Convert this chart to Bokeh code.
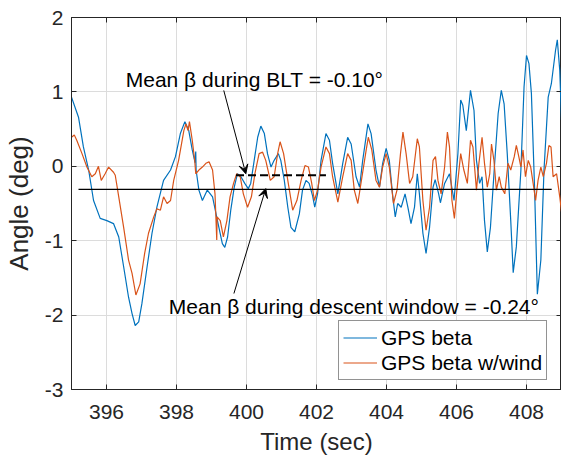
from bokeh.plotting import figure
from bokeh.models import (Range1d, FixedTicker, LinearAxis, Label, Arrow, VeeHead,
                          Legend, LegendItem, ColumnDataSource)
from bokeh.embed import file_html
from bokeh.resources import INLINE

# ---------------- data ----------------
time_blue = [395.00, 395.20, 395.34, 395.49, 395.63, 395.82, 396.01, 396.20, 396.35, 396.49,
             396.63, 396.73, 396.82, 396.92, 397.01, 397.16, 397.30, 397.44, 397.63, 397.83,
             397.97, 398.11, 398.24, 398.35, 398.45, 398.53, 398.55, 398.56, 398.64, 398.74,
             398.88, 399.03, 399.17, 399.31, 399.38, 399.46, 399.55, 399.65, 399.74, 399.84,
             399.95, 400.05, 400.12, 400.22, 400.32, 400.41, 400.51, 400.60, 400.70, 400.79,
             400.91, 400.98, 401.08, 401.18, 401.27, 401.38, 401.51, 401.60, 401.70, 401.79,
             401.89, 401.95, 402.03, 402.13, 402.27, 402.37, 402.46, 402.61, 402.75, 402.89,
             402.99, 403.13, 403.23, 403.32, 403.47, 403.56, 403.70, 403.80, 403.89, 403.99,
             404.08, 404.18, 404.25, 404.32, 404.42, 404.53, 404.61, 404.70, 404.80, 404.88,
             404.94, 405.04, 405.13, 405.23, 405.33, 405.39, 405.49, 405.54, 405.66, 405.80,
             405.93, 406.04, 406.12, 406.18, 406.28, 406.40, 406.50, 406.57, 406.66, 406.73,
             406.80, 406.88, 406.97, 407.09, 407.19, 407.28, 407.36, 407.45, 407.55, 407.62,
             407.71, 407.84, 407.93, 408.00, 408.07, 408.14, 408.23, 408.31, 408.41, 408.50,
             408.62, 408.71, 408.83, 408.88, 408.95, 409.00]
beta_blue = [0.93, 0.66, 0.26, -0.05, -0.46, -0.70, -0.73, -0.77, -0.95, -1.35,
             -1.76, -1.98, -2.14, -2.09, -1.85, -1.35, -0.90, -0.55, -0.19, -0.05,
             0.13, 0.44, 0.60, 0.48, 0.22, 0.05, 0.20, -0.05, -0.32, -0.46,
             -0.32, -0.41, -0.73, -1.04, -1.09, -0.95, -0.59, -0.28, -0.10, -0.14,
             -0.23, -0.30, -0.23, 0.08, 0.39, 0.54, 0.44, 0.17, -0.01, 0.08,
             0.17, 0.08, -0.19, -0.55, -0.82, -0.88, -0.64, -0.32, -0.19, -0.23,
             -0.40, -0.55, -0.37, 0.08, 0.44, 0.35, 0.04, -0.37, 0.04, 0.39,
             0.30, -0.14, -0.28, 0.08, 0.57, 0.44, -0.05, -0.28, 0.04, 0.24,
             0.08, -0.41, -0.68, -0.50, -0.55, -0.37, -0.55, -0.77, -0.55, -0.10,
             -0.37, -0.90, -1.17, -0.82, -0.28, -0.18, -0.37, -0.49, -0.23, -0.10,
             -0.46, 0.17, 0.89, 0.82, 0.48, 1.02, 0.75, 0.08, -0.23, -0.14,
             -0.73, -1.15, -0.82, 0.04, 0.71, 1.02, 0.84, 0.17, -0.73, -1.43,
             -1.08, -0.05, 1.07, 1.49, 1.38, 0.98, -0.28, -1.72, -1.26, -0.05,
             0.93, 1.11, 1.56, 1.70, 1.29, 0.62]

time_orange = [395.00, 395.08, 395.15, 395.30, 395.44, 395.58, 395.68, 395.77, 395.85, 395.96,
               396.06, 396.20, 396.25, 396.35, 396.49, 396.63, 396.73, 396.84, 396.96, 397.09,
               397.20, 397.35, 397.44, 397.54, 397.63, 397.73, 397.83, 397.92, 398.06, 398.21,
               398.27, 398.33, 398.37, 398.45, 398.52, 398.55, 398.64, 398.74, 398.84, 398.93,
               399.03, 399.10, 399.15, 399.16, 399.25, 399.34, 399.44, 399.53, 399.63, 399.72,
               399.82, 399.91, 400.03, 400.14, 400.24, 400.36, 400.46, 400.55, 400.68, 400.79,
               400.89, 400.96, 401.06, 401.18, 401.32, 401.44, 401.56, 401.67, 401.77, 401.86,
               401.94, 402.03, 402.13, 402.27, 402.37, 402.46, 402.61, 402.75, 402.89, 402.99,
               403.08, 403.18, 403.27, 403.42, 403.48, 403.58, 403.70, 403.80, 403.89, 403.99,
               404.08, 404.20, 404.30, 404.40, 404.47, 404.56, 404.66, 404.75, 404.88, 404.94,
               405.04, 405.13, 405.23, 405.33, 405.40, 405.47, 405.56, 405.66, 405.74, 405.80,
               405.87, 405.94, 406.02, 406.12, 406.21, 406.31, 406.40, 406.47, 406.57, 406.64,
               406.73, 406.80, 406.88, 406.95, 407.00, 407.07, 407.14, 407.22, 407.28, 407.38,
               407.47, 407.55, 407.65, 407.71, 407.78, 407.84, 407.90, 407.97, 408.05, 408.12,
               408.19, 408.26, 408.33, 408.41, 408.48, 408.57, 408.64, 408.70, 408.76, 408.86,
               408.95, 409.00]
beta_orange = [0.39, 0.42, 0.35, 0.17, -0.01, -0.14, -0.10, 0.00, -0.19, -0.10,
               -0.01, -0.08, -0.12, -0.41, -0.82, -1.26, -1.44, -1.73, -1.58, -1.17,
               -0.90, -0.68, -0.57, -0.59, -0.41, -0.50, -0.46, -0.19, 0.08, 0.48,
               0.57, 0.48, 0.60, 0.35, 0.08, -0.10, -0.05, -0.01, 0.04, 0.06,
               -0.05, -0.37, -0.99, -0.68, -0.73, -0.95, -0.73, -0.41, -0.23, -0.10,
               -0.14, -0.37, -0.55, -0.41, -0.10, 0.17, 0.19, 0.08, -0.19, -0.14,
               0.17, 0.33, 0.17, -0.19, -0.59, -0.46, -0.19, 0.01, -0.01, -0.22,
               -0.46, -0.32, -0.01, 0.26, 0.17, -0.14, -0.48, -0.14, 0.17, 0.08,
               -0.32, -0.50, -0.23, 0.22, 0.39, 0.22, -0.19, -0.28, -0.01, 0.17,
               -0.01, -0.50, -0.32, 0.17, 0.46, 0.17, -0.23, -0.14, 0.37, 0.26,
               -0.46, -0.86, -0.55, 0.08, 0.13, -0.19, -0.37, -0.01, 0.46, 0.26,
               -0.46, -0.70, -0.28, 0.17, -0.05, -0.23, 0.35, 0.26, -0.32, 0.04,
               0.39, 0.04, -0.28, -0.10, 0.30, 0.08, -0.32, -0.14, -0.28, -0.37,
               0.04, -0.05, 0.13, 0.28, 0.13, -0.01, 0.22, -0.14, 0.08, -0.01,
               -0.23, -0.46, -0.19, -0.01, -0.14, 0.04, 0.28, 0.26, -0.14, -0.10,
               -0.41, -0.61]

descent_mean_t = [395.2, 408.72]
descent_mean_v = [-0.31, -0.31]
blt_mean_t = [399.7, 402.27]
blt_mean_v = [-0.12, -0.12]

x_ticks = [396, 398, 400, 402, 404, 406, 408]
y_ticks = [-3, -2, -1, 0, 1, 2]
y_tick_labels = ["-3", "-2", "-1", "0", "1", "2"]

label_blt = "Mean \u03b2 during BLT = -0.10\u00b0"
label_descent = "Mean \u03b2 during descent window = -0.24\u00b0"
series_names = ["GPS beta", "GPS beta w/wind"]

# annotation anchor points (data coords)
blt_text_pos = (396.55, 1.17)
blt_arrow = (399.35, 1.02, 399.98, -0.10)
desc_text_pos = (397.78, -1.88)
desc_arrow = (399.64, -1.71, 400.55, -0.30)

# ---------------- figure ----------------
FONT = "Liberation Sans"
TXT = "#262626"
BLUE = "#0072BD"
ORANGE = "#D95319"

p = figure(width=561, height=459, output_backend="svg", toolbar_location=None,
           x_range=Range1d(395, 409), y_range=Range1d(-3, 2))
p.min_border_left = 71
p.min_border_right = 0
p.min_border_top = 17
p.min_border_bottom = 70
p.background_fill_color = "white"
p.border_fill_color = "white"
p.outline_line_color = TXT
p.outline_line_width = 1

for ax, ticks in ((p.xaxis[0], x_ticks), (p.yaxis[0], y_ticks)):
    ax.ticker = FixedTicker(ticks=ticks)
    ax.major_tick_in = 5
    ax.major_tick_out = 0
    ax.minor_tick_line_color = None
    ax.axis_line_color = TXT
    ax.major_tick_line_color = TXT
    ax.major_label_text_font = FONT
    ax.major_label_text_font_size = "21px"
    ax.major_label_text_color = TXT
    ax.axis_label_text_font = FONT
    ax.axis_label_text_font_style = "normal"
    ax.axis_label_text_color = TXT

p.yaxis[0].major_label_overrides = {float(t): s for t, s in zip(y_ticks, y_tick_labels)}

p.xaxis[0].axis_label = "Time (sec)"
p.xaxis[0].axis_label_text_font_size = "24px"
p.xaxis[0].major_label_standoff = 15
p.xaxis[0].axis_label_standoff = 6
p.yaxis[0].axis_label = "Angle (deg)"
p.yaxis[0].axis_label_text_font_size = "26px"
p.yaxis[0].major_label_standoff = 8
p.yaxis[0].axis_label_standoff = 8

# box ticks on top/right (no labels)
for loc, ticks in (("right", y_ticks), ("above", x_ticks)):
    a = LinearAxis(ticker=FixedTicker(ticks=ticks))
    a.major_tick_in = 5
    a.major_tick_out = 0
    a.minor_tick_line_color = None
    a.axis_line_color = TXT
    a.major_tick_line_color = TXT
    a.major_label_overrides = {float(t): "" for t in ticks}
    a.major_label_standoff = 0
    p.add_layout(a, loc)

p.xgrid.ticker = FixedTicker(ticks=x_ticks)
p.ygrid.ticker = FixedTicker(ticks=y_ticks)
p.grid.grid_line_color = "#dcdcdc"
p.grid.grid_line_width = 1

src_b = ColumnDataSource(dict(t=time_blue, v=beta_blue))
src_o = ColumnDataSource(dict(t=time_orange, v=beta_orange))
r_b = p.line("t", "v", source=src_b, line_color=BLUE, line_width=1.2)
r_o = p.line("t", "v", source=src_o, line_color=ORANGE, line_width=1.2)

p.line(descent_mean_t, descent_mean_v, line_color="black", line_width=1.2)
p.line(blt_mean_t, blt_mean_v, line_color="black", line_width=2, line_dash="8 4")

p.add_layout(Label(x=blt_text_pos[0], y=blt_text_pos[1], text=label_blt,
                   text_font=FONT, text_font_size="21px", text_color="black",
                   text_baseline="middle", text_align="left"))
p.add_layout(Label(x=desc_text_pos[0], y=desc_text_pos[1], text=label_descent,
                   text_font=FONT, text_font_size="21px", text_color="black",
                   text_baseline="middle", text_align="left"))

for (x0, y0, x1, y1) in (blt_arrow, desc_arrow):
    p.add_layout(Arrow(x_start=x0, y_start=y0, x_end=x1, y_end=y1,
                       line_color="black", line_width=1,
                       end=VeeHead(size=9, fill_color="black", line_color="black")))

legend = Legend(items=[LegendItem(label=series_names[0], renderers=[r_b]),
                       LegendItem(label=series_names[1], renderers=[r_o])],
                location=(267, 9))
legend.label_text_font = FONT
legend.label_text_font_size = "21px"
legend.label_text_color = "black"
legend.border_line_color = TXT
legend.border_line_width = 1
legend.background_fill_color = "white"
legend.background_fill_alpha = 1
legend.glyph_width = 34
legend.glyph_height = 25
legend.label_height = 25
legend.label_standoff = 4
legend.spacing = 0
legend.padding = 4
legend.margin = 0
p.add_layout(legend)

open("out.html", "w").write(file_html(p, INLINE))
